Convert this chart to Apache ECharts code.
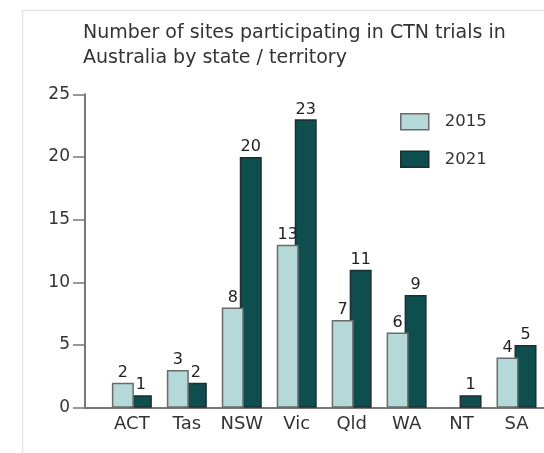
<!DOCTYPE html>
<html>
<head>
<meta charset="utf-8">
<script src="https://cdn.jsdelivr.net/npm/echarts@6/dist/echarts.min.js"></script>
<style>
html,body{margin:0;padding:0;background:#fff;}
#chart{width:544px;height:453px;}
</style>
</head>
<body>
<div id="chart"></div>
<script>
const categories = ['ACT', 'Tas', 'NSW', 'Vic', 'Qld', 'WA', 'NT', 'SA'];
const values2015 = [2, 3, 8, 13, 7, 6, null, 4];
const values2021 = [1, 2, 20, 23, 11, 9, 1, 5];
const seriesNames = ['2015', '2021'];
const yMin = 0, yMax = 25, yStep = 5;
const titleText = 'Number of sites participating in CTN trials in\nAustralia by state / territory';

const FONT = 'DejaVu Sans';
const light = '#b5d8d9', lightBorder = '#6b6b6b';
const dark = '#0e4e4e', darkBorder = '#1d2f2f';

const chart = echarts.init(document.getElementById('chart'), null, {renderer: 'canvas'});
const gridTop = 94.3, gridHeight = 313.4;

const option = {
  backgroundColor: '#fff',
  animation: false,
  textStyle: {fontFamily: FONT},
  title: {
    text: titleText,
    left: 78,
    top: 15,
    textStyle: {fontFamily: FONT, fontSize: 19, fontWeight: 'normal', color: '#333', lineHeight: 25.5}
  },
  graphic: [{
    type: 'polyline',
    shape: {points: [[22.5, 453], [22.5, 10.5], [544, 10.5]]},
    style: {stroke: '#e6e6e6', lineWidth: 1.5, fill: null},
    silent: true
  }],
  legend: {
    orient: 'vertical',
    left: 395,
    top: 108,
    itemWidth: 28,
    itemHeight: 16,
    itemGap: 20,
    icon: 'rect',
    textStyle: {fontFamily: FONT, fontSize: 16.5, color: '#333', padding: [0, 0, 0, 11]},
    data: [
      {name: seriesNames[0], itemStyle: {color: light, borderColor: lightBorder, borderWidth: 1.5}},
      {name: seriesNames[1], itemStyle: {color: dark, borderColor: darkBorder, borderWidth: 1.5}}
    ]
  },
  grid: [
    {left: 104.4, width: 446.8, top: gridTop, height: gridHeight, containLabel: false},
    {left: 85, right: 0, top: gridTop, height: gridHeight, containLabel: false}
  ],
  xAxis: [
    {
      type: 'category', gridIndex: 0, data: categories,
      axisLine: {show: false}, axisTick: {show: false},
      axisLabel: {interval: 0, fontFamily: FONT, fontSize: 18, color: '#333', margin: 8}
    },
    {
      type: 'value', gridIndex: 1, min: 0, max: 1,
      axisLine: {show: true, lineStyle: {color: '#777', width: 2}},
      axisTick: {show: false}, axisLabel: {show: false}, splitLine: {show: false}
    }
  ],
  yAxis: [
    {type: 'value', gridIndex: 0, min: yMin, max: yMax, interval: yStep, show: false, splitLine: {show: false}},
    {
      type: 'value', gridIndex: 1, min: yMin, max: yMax, interval: yStep,
      axisLine: {show: true, lineStyle: {color: '#777', width: 2}},
      axisTick: {show: true, length: 12, lineStyle: {color: '#777', width: 1.5}},
      axisLabel: {fontFamily: FONT, fontSize: 17, color: '#333', margin: 15},
      splitLine: {show: false}
    }
  ],
  series: [
    {
      name: seriesNames[0], type: 'bar', xAxisIndex: 0, yAxisIndex: 0,
      data: values2015, barWidth: 22, barGap: '-18.2%', z: 3,
      itemStyle: {color: light, borderColor: lightBorder, borderWidth: 1.5},
      label: {show: true, position: 'top', distance: 2, fontFamily: FONT, fontSize: 16, color: '#222'}
    },
    {
      name: seriesNames[1], type: 'bar', xAxisIndex: 0, yAxisIndex: 0,
      data: values2021, barWidth: 22, barGap: '-18.2%', z: 2,
      itemStyle: {color: dark, borderColor: darkBorder, borderWidth: 1.5},
      label: {show: true, position: 'top', distance: 2, fontFamily: FONT, fontSize: 16, color: '#222'}
    }
  ]
};
chart.setOption(option);
</script>
</body>
</html>
